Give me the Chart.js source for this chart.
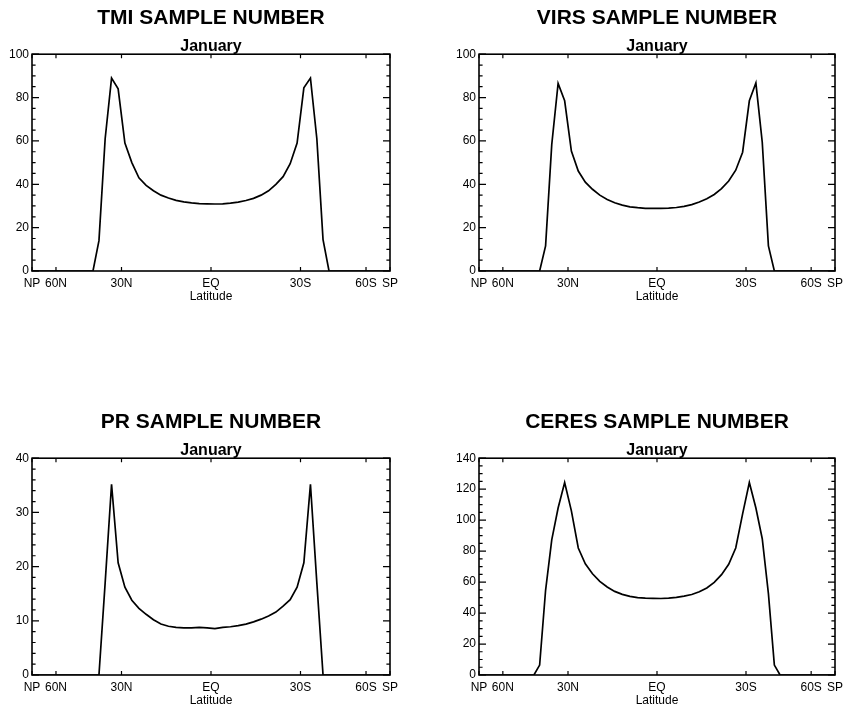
<!DOCTYPE html>
<html>
<head>
<meta charset="utf-8">
<title>Sample number - January</title>
<script src="https://cdn.jsdelivr.net/npm/chart.js@4.4.1/dist/chart.umd.min.js"></script>
<style>
  html, body { margin: 0; padding: 0; background: #fff; overflow: hidden; }
  body { width: 843px; height: 707px; position: relative; }
  canvas { position: absolute; }
</style>
</head>
<body>
<canvas id="tmi-chart" width="421" height="304" style="left:0;top:0"></canvas>
<canvas id="virs-chart" width="422" height="304" style="left:421px;top:0"></canvas>
<canvas id="pr-chart" width="421" height="304" style="left:0;top:404px"></canvas>
<canvas id="ceres-chart" width="422" height="304" style="left:421px;top:404px"></canvas>
<script>
// Centros de banda de latitud (2.5 grados), de norte a sur
const latitudes = [
  88.75, 86.25, 83.75, 81.25, 78.75, 76.25, 73.75, 71.25, 68.75, 66.25,
  63.75, 61.25, 58.75, 56.25, 53.75, 51.25, 48.75, 46.25, 43.75, 41.25,
  38.75, 36.25, 33.75, 31.25, 28.75, 26.25, 23.75, 21.25, 18.75, 16.25,
  13.75, 11.25, 8.75, 6.25, 3.75, 1.25,
  -1.25, -3.75, -6.25, -8.75, -11.25, -13.75, -16.25, -18.75, -21.25, -23.75,
  -26.25, -28.75, -31.25, -33.75, -36.25, -38.75, -41.25, -43.75, -46.25, -48.75,
  -51.25, -53.75, -56.25, -58.75, -61.25, -63.75, -66.25, -68.75, -71.25, -73.75,
  -76.25, -78.75, -81.25, -83.75, -86.25, -88.75
];

// Marcas del eje X
const tickLats = [90, 60, 30, 0, -30, -60, -90];
const tickLabels = ['NP', '60N', '30N', 'EQ', '30S', '60S', 'SP'];

// Número de muestras por banda
const tmiCounts = [
  0, 0, 0, 0, 0, 0, 0, 0, 0, 0,
  0, 0, 0, 0, 0, 0, 0, 0, 0, 0,
  14, 61, 89, 84, 59, 50, 43, 39.5, 37, 35,
  33.7, 32.6, 31.9, 31.4, 31.1, 31.0,
  30.9, 31.0, 31.3, 31.8, 32.5, 33.5, 35, 37, 40, 43.5,
  49.5, 59, 84.5, 89, 61, 14.5,
  0, 0, 0, 0, 0, 0, 0, 0, 0, 0,
  0, 0, 0, 0, 0, 0, 0, 0, 0, 0
];

const virsCounts = [
  0, 0, 0, 0, 0, 0, 0, 0, 0, 0,
  0, 0, 0, 0, 0, 0, 0, 0, 0, 0,
  11.6, 58.3, 86.5, 78.5, 55.3, 46.1, 41, 37.7, 35, 33,
  31.5, 30.4, 29.6, 29.2, 28.9, 28.9,
  28.9, 29.0, 29.3, 29.8, 30.6, 31.8, 33.3, 35.3, 38.0, 41.5,
  46.5, 54.8, 78.5, 86.7, 59.4, 11.6,
  0, 0, 0, 0, 0, 0, 0, 0, 0, 0,
  0, 0, 0, 0, 0, 0, 0, 0, 0, 0
];

const prCounts = [
  0, 0, 0, 0, 0, 0, 0, 0, 0, 0,
  0, 0, 0, 0, 0, 0, 0, 0, 0, 0,
  0, 17, 35.2, 20.7, 16.2, 13.8, 12.3, 11.2, 10.2, 9.4,
  9.0, 8.8, 8.7, 8.7, 8.8, 8.7,
  8.55, 8.8, 8.9, 9.1, 9.4, 9.8, 10.3, 10.9, 11.6, 12.7,
  13.9, 16.2, 20.7, 35.2, 17, 0,
  0, 0, 0, 0, 0, 0, 0, 0, 0, 0,
  0, 0, 0, 0, 0, 0, 0, 0, 0, 0
];

const ceresCounts = [
  0, 0, 0, 0, 0, 0, 0, 0, 0, 0,
  0, 0, 0, 0, 0, 0, 0, 0, 0,
  6.4, 54.7, 87.3, 107.8, 124.3, 106, 82, 71.8, 65.4, 60.5,
  56.8, 54.0, 52.1, 50.8, 50.0, 49.6, 49.5,
  49.4, 49.6, 50.1, 50.9, 52.0, 53.7, 56.2, 59.8, 64.8, 71.5,
  82, 104, 124.3, 107.8, 88, 52.5, 6.4,
  0, 0, 0, 0, 0, 0, 0, 0, 0, 0,
  0, 0, 0, 0, 0, 0, 0, 0, 0
];

const FONT = '"Liberation Sans", Arial, Helvetica, sans-serif';

// El eje X es lineal en seno de la latitud (igual área)
const toX = lat => Math.sin(lat * Math.PI / 180);

// Marco tipo IDL con marcas hacia adentro
const frameTicks = {
  id: 'frameTicks',
  afterDatasetsDraw(chart, args, opts) {
    const { ctx, chartArea: a, scales: { x, y } } = chart;
    const step = y.options.ticks.stepSize;
    ctx.save();
    ctx.strokeStyle = '#000';
    ctx.lineWidth = 1.2;
    ctx.beginPath();
    for (let v = y.min; v <= y.max + 1e-6; v += opts.minor) {
      const py = y.getPixelForValue(v);
      const isMajor = Math.abs(v / step - Math.round(v / step)) < 1e-6;
      const len = isMajor ? 7 : 3.6;
      ctx.moveTo(a.left, py);
      ctx.lineTo(a.left + len, py);
      ctx.moveTo(a.right, py);
      ctx.lineTo(a.right - len, py);
    }
    x.ticks.forEach(t => {
      const px = x.getPixelForValue(t.value);
      ctx.moveTo(px, a.bottom);
      ctx.lineTo(px, a.bottom - 4);
      ctx.moveTo(px, a.top);
      ctx.lineTo(px, a.top + 4);
    });
    ctx.stroke();
    ctx.lineWidth = 1.6;
    ctx.strokeRect(a.left, a.top, a.right - a.left, a.bottom - a.top);
    ctx.restore();
  }
};

function makeChart(canvasId, title, counts, yMax, yStep, yMinor, axisWidth, padRight) {
  const ctx = document.getElementById(canvasId);
  return new Chart(ctx, {
    type: 'line',
    data: {
      datasets: [{
        data: latitudes.map((lat, i) => ({ x: toX(lat), y: counts[i] })),
        borderColor: '#000',
        borderWidth: 1.7,
        pointRadius: 0,
        tension: 0,
        fill: false
      }]
    },
    options: {
      responsive: false,
      animation: false,
      devicePixelRatio: 1,
      layout: {
        padding: { left: 0, top: 0, right: padRight, bottom: 0 }
      },
      plugins: {
        legend: { display: false },
        tooltip: { enabled: false },
        title: {
          display: true,
          text: title,
          color: '#000',
          fullSize: false,
          font: { family: FONT, size: 21, weight: 'bold' },
          padding: { top: 6, bottom: 7 }
        },
        subtitle: {
          display: true,
          text: 'January',
          color: '#000',
          fullSize: false,
          font: { family: FONT, size: 16, weight: 'bold', lineHeight: 1 },
          padding: { top: 0, bottom: 0 }
        },
        frameTicks: { minor: yMinor }
      },
      scales: {
        x: {
          type: 'linear',
          min: -1,
          max: 1,
          reverse: true,
          grid: { display: false, drawTicks: false },
          border: { display: false },
          afterBuildTicks: scale => {
            scale.ticks = tickLats.map(l => ({ value: toX(l) }));
          },
          afterFit: scale => {
            scale.height = 33;
            scale.paddingLeft = 0;
            scale.paddingRight = 0;
          },
          ticks: {
            autoSkip: false,
            maxRotation: 0,
            padding: 5,
            color: '#000',
            font: { family: FONT, size: 12 },
            callback: (value, index) => tickLabels[index]
          },
          title: {
            display: true,
            text: 'Latitude',
            color: '#000',
            font: { family: FONT, size: 12 },
            padding: { top: 0, bottom: 0 }
          }
        },
        y: {
          min: 0,
          max: yMax,
          grid: { display: false, drawTicks: false },
          border: { display: false },
          afterFit: scale => {
            scale.width = axisWidth;
            scale.paddingTop = 0;
            scale.paddingBottom = 0;
          },
          ticks: {
            stepSize: yStep,
            padding: 3,
            color: '#000',
            font: { family: FONT, size: 12 }
          }
        }
      }
    },
    plugins: [frameTicks]
  });
}

makeChart('tmi-chart', 'TMI SAMPLE NUMBER', tmiCounts, 100, 20, 5, 32, 31);
makeChart('virs-chart', 'VIRS SAMPLE NUMBER', virsCounts, 100, 20, 5, 58, 8);
makeChart('pr-chart', 'PR SAMPLE NUMBER', prCounts, 40, 10, 2, 32, 31);
makeChart('ceres-chart', 'CERES SAMPLE NUMBER', ceresCounts, 140, 20, 5, 58, 8);
</script>
</body>
</html>
